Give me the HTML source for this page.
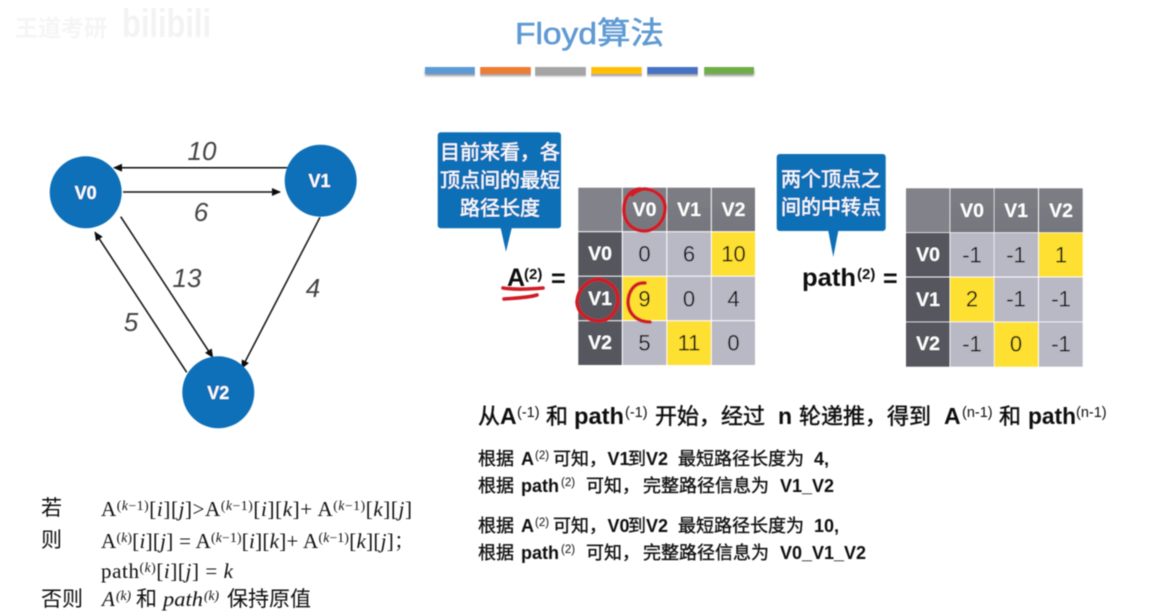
<!DOCTYPE html>
<html lang="zh">
<head>
<meta charset="utf-8">
<title>Floyd算法</title>
<style>
html,body{margin:0;padding:0;background:#fff;}
body{width:1154px;height:613px;overflow:hidden;}
svg{display:block;}
text{font-family:"Liberation Sans","Noto Sans CJK SC",sans-serif;}
.serif{font-family:"Liberation Serif","Noto Serif CJK SC",serif;}
.h{fill:#fff;font-weight:700;font-size:19.5px;text-anchor:middle;dominant-baseline:central;}
.n{fill:#111;font-size:22px;text-anchor:middle;dominant-baseline:central;}
.c{fill:#fff;font-size:20px;text-anchor:middle;dominant-baseline:central;stroke:#fff;stroke-width:.2;}
.w{fill:#444;font-size:26px;font-style:italic;text-anchor:middle;dominant-baseline:central;}
.m{font-size:22px;fill:#111;stroke:#111;stroke-width:.45;}
.ml{font-size:23px;font-weight:700;fill:#111;}
.ms{font-size:14.5px;fill:#111;}
.s{font-size:18px;fill:#111;stroke:#111;stroke-width:.35;}
.sl{font-size:18px;font-weight:700;fill:#111;}
.ss{font-size:11.5px;fill:#111;}
.f{font-size:21px;fill:#111;}
.fl{font-size:21px;fill:#111;}
.fs{font-size:13.5px;}
.red{fill:none;stroke:#cf1f28;stroke-width:3.6;stroke-linecap:round;}
</style>
</head>
<body>
<svg width="1154" height="613" viewBox="0 0 1154 613" xmlns="http://www.w3.org/2000/svg">
<defs>
<marker id="ah" markerWidth="10" markerHeight="10" refX="8" refY="4" orient="auto" markerUnits="userSpaceOnUse"><path d="M0 0L9 4L0 8z" fill="#111"/></marker>
<linearGradient id="hg" x1="0" y1="0" x2="0" y2="1"><stop offset="0" stop-color="#7d7e85"/><stop offset="1" stop-color="#76777e"/></linearGradient>
<filter id="soft" x="-5%" y="-5%" width="110%" height="110%"><feGaussianBlur stdDeviation="0.45"/></filter>
<filter id="sh" x="-10%" y="-50%" width="120%" height="220%"><feGaussianBlur stdDeviation="1"/></filter>
</defs>
<g filter="url(#soft)">
<!-- watermark -->
<text x="15" y="36" font-size="23" fill="#f5f5f5" font-weight="700">王道考研</text>
<text x="122" y="37" font-size="40" fill="#f3f3f3" font-weight="700" textLength="89" lengthAdjust="spacingAndGlyphs">bilibili</text>

<!-- title -->
<text x="515" y="44" font-size="31" fill="#5f9ad3" stroke="#5f9ad3" stroke-width=".6" textLength="149" lengthAdjust="spacingAndGlyphs">Floyd算法</text>
<g>
<rect x="425" y="70" width="329" height="6" fill="#999" filter="url(#sh)"/>
<rect x="425" y="67" width="50" height="7" fill="#5b9bd5"/>
<rect x="480" y="67" width="51" height="7" fill="#ed7d31"/>
<rect x="535" y="67" width="51" height="7" fill="#a5a5a5"/>
<rect x="591" y="67" width="51" height="7" fill="#ffc000"/>
<rect x="647" y="67" width="51" height="7" fill="#4472c4"/>
<rect x="704" y="67" width="50" height="7" fill="#70ad47"/>
<rect x="475" y="66" width="5" height="12" fill="#fff"/><rect x="531" y="66" width="4" height="12" fill="#fff"/><rect x="586" y="66" width="5" height="12" fill="#fff"/><rect x="642" y="66" width="5" height="12" fill="#fff"/><rect x="698" y="66" width="6" height="12" fill="#fff"/>
</g>

<!-- graph -->
<g stroke="#111" stroke-width="1.5" fill="none">
<line x1="290" y1="167.7" x2="114" y2="167.7" marker-end="url(#ah)"/>
<line x1="123" y1="192" x2="280" y2="192" marker-end="url(#ah)"/>
<line x1="120.7" y1="216.7" x2="212.7" y2="357.3" marker-end="url(#ah)"/>
<line x1="186.7" y1="372.3" x2="95" y2="232.3" marker-end="url(#ah)"/>
<line x1="320" y1="217.3" x2="241.7" y2="368.3" marker-end="url(#ah)"/>
</g>
<circle cx="85.7" cy="192.3" r="36" fill="#0b6fb8"/>
<circle cx="320.7" cy="180.7" r="36" fill="#0b6fb8"/>
<circle cx="218.3" cy="392.3" r="36" fill="#0b6fb8"/>
<text x="85.7" y="193" class="h" style="font-size:18px">V0</text>
<text x="319.5" y="181" class="h" style="font-size:18px">V1</text>
<text x="218.3" y="393" class="h" style="font-size:18px">V2</text>
<text x="202" y="151" class="w">10</text>
<text x="201" y="212" class="w">6</text>
<text x="187" y="278" class="w">13</text>
<text x="313" y="288" class="w">4</text>
<text x="131" y="322" class="w">5</text>

<!-- callout 1 -->
<path d="M440.7 132.3H558a3 3 0 0 1 3 3V225.3a3 3 0 0 1-3 3H511.7L506 251.7L500.7 228.3H440.7a3 3 0 0 1-3-3V135.3a3 3 0 0 1 3-3z" fill="#0f70b7"/>
<text x="500" y="153" class="c">目前来看，各</text>
<text x="500" y="181" class="c">顶点间的最短</text>
<text x="500" y="209" class="c">路径长度</text>

<!-- callout 2 -->
<path d="M779.7 154H882.7a3 3 0 0 1 3 3V228a3 3 0 0 1-3 3H838.3L833.3 257L828.3 231H779.7a3 3 0 0 1-3-3V157a3 3 0 0 1 3-3z" fill="#0f70b7"/>
<text x="831" y="180" class="c">两个顶点之</text>
<text x="831" y="208" class="c">间的中转点</text>

<!-- table A -->
<g>
<rect x="578.3" y="187.7" width="43.5" height="43.5" fill="#82838a"/>
<rect x="622.8" y="187.7" width="43.5" height="43.5" fill="url(#hg)"/>
<rect x="667.3" y="187.7" width="43.5" height="43.5" fill="url(#hg)"/>
<rect x="711.8" y="187.7" width="43.2" height="43.5" fill="url(#hg)"/>
<rect x="578.3" y="232.2" width="43.5" height="43.5" fill="#56565e"/>
<rect x="578.3" y="276.7" width="43.5" height="43.5" fill="#56565e"/>
<rect x="578.3" y="321.2" width="43.5" height="43.8" fill="#56565e"/>
<rect x="622.8" y="232.2" width="43.5" height="43.5" fill="#b9b8c5"/>
<rect x="667.3" y="232.2" width="43.5" height="43.5" fill="#b9b8c5"/>
<rect x="711.8" y="232.2" width="43.2" height="43.5" fill="#fee033"/>
<rect x="622.8" y="276.7" width="43.5" height="43.5" fill="#fee033"/>
<rect x="667.3" y="276.7" width="43.5" height="43.5" fill="#b9b8c5"/>
<rect x="711.8" y="276.7" width="43.2" height="43.5" fill="#b9b8c5"/>
<rect x="622.8" y="321.2" width="43.5" height="43.8" fill="#b9b8c5"/>
<rect x="667.3" y="321.2" width="43.5" height="43.8" fill="#fee033"/>
<rect x="711.8" y="321.2" width="43.2" height="43.8" fill="#b9b8c5"/>
<text x="644.5" y="210" class="h">V0</text><text x="689" y="210" class="h">V1</text><text x="733.5" y="210" class="h">V2</text>
<text x="600" y="254" class="h">V0</text><text x="600" y="299" class="h">V1</text><text x="600" y="343" class="h">V2</text>
<text x="644.5" y="254" class="n">0</text><text x="689" y="254" class="n">6</text><text x="733.5" y="254" class="n">10</text>
<text x="644.5" y="299" class="n">9</text><text x="689" y="299" class="n">0</text><text x="733.5" y="299" class="n">4</text>
<text x="644.5" y="343" class="n">5</text><text x="689" y="343" class="n">11</text><text x="733.5" y="343" class="n">0</text>
</g>

<!-- A(2) = -->
<text x="507" y="286" font-size="25" font-weight="700" fill="#111">A</text>
<text x="524" y="279" font-size="15" font-weight="700" fill="#111">(2)</text>
<text x="551" y="287" font-size="25" font-weight="700" fill="#111">=</text>

<!-- table path -->
<g>
<rect x="906" y="188.3" width="43.5" height="44" fill="#82838a"/>
<rect x="950.3" y="188.3" width="43.5" height="44" fill="url(#hg)"/>
<rect x="994.5" y="188.3" width="43.5" height="44" fill="url(#hg)"/>
<rect x="1039" y="188.3" width="43.7" height="44" fill="url(#hg)"/>
<rect x="906" y="233" width="43.5" height="43.5" fill="#56565e"/>
<rect x="906" y="277.5" width="43.5" height="44" fill="#56565e"/>
<rect x="906" y="322.3" width="43.5" height="44.4" fill="#56565e"/>
<rect x="950.3" y="233" width="43.5" height="43.5" fill="#b9b8c5"/>
<rect x="994.5" y="233" width="43.5" height="43.5" fill="#b9b8c5"/>
<rect x="1039" y="233" width="43.7" height="43.5" fill="#fee033"/>
<rect x="950.3" y="277.5" width="43.5" height="44" fill="#fee033"/>
<rect x="994.5" y="277.5" width="43.5" height="44" fill="#b9b8c5"/>
<rect x="1039" y="277.5" width="43.7" height="44" fill="#b9b8c5"/>
<rect x="950.3" y="322.3" width="43.5" height="44.4" fill="#b9b8c5"/>
<rect x="994.5" y="322.3" width="43.5" height="44.4" fill="#fee033"/>
<rect x="1039" y="322.3" width="43.7" height="44.4" fill="#b9b8c5"/>
<text x="972" y="211" class="h">V0</text><text x="1016" y="211" class="h">V1</text><text x="1061" y="211" class="h">V2</text>
<text x="928" y="255" class="h">V0</text><text x="928" y="300" class="h">V1</text><text x="928" y="344" class="h">V2</text>
<text x="972" y="255" class="n">-1</text><text x="1016" y="255" class="n">-1</text><text x="1061" y="255" class="n">1</text>
<text x="972" y="299" class="n">2</text><text x="1016" y="299" class="n">-1</text><text x="1061" y="299" class="n">-1</text>
<text x="972" y="344" class="n">-1</text><text x="1016" y="344" class="n">0</text><text x="1061" y="344" class="n">-1</text>
</g>

<!-- path(2) = -->
<text x="802" y="286" font-size="25" font-weight="700" fill="#111" textLength="54" lengthAdjust="spacingAndGlyphs">path</text>
<text x="857" y="279" font-size="15" font-weight="700" fill="#111">(2)</text>
<text x="883" y="287" font-size="25" font-weight="700" fill="#111">=</text>

<!-- red annotations -->
<path class="red" d="M640 189C628 190 624 200 624 210C624 224 634 231 645 231C657 230 665 220 665 208C665 197 656 190 645 189C642 189 636 191 632 195"/>
<path class="red" d="M600 279C586 280 578 290 577 302C578 314 588 321 600 321C612 320 618 309 618 298C617 288 610 280 596 279"/>
<path class="red" d="M645 283C634 282 628 292 628 303C629 315 638 322 650 322"/>
<path class="red" d="M503 288C516 290 530 289 543 288"/>
<path class="red" d="M504 299C515 298 527 298 537 295"/>

<!-- main line -->
<g>
<text x="478" y="424" class="m">从</text><text x="500" y="424" class="ml">A</text>
<text x="517" y="417" class="ms">(-1)</text>
<text x="546" y="424" class="m">和</text>
<text x="574" y="424" class="ml" textLength="50" lengthAdjust="spacingAndGlyphs">path</text>
<text x="625" y="417" class="ms">(-1)</text>
<text x="655" y="424" class="m">开始，经过</text>
<text x="778" y="424" class="ml">n</text>
<text x="799" y="424" class="m">轮递推，得到</text>
<text x="944" y="424" class="ml">A</text>
<text x="962" y="417" class="ms">(n-1)</text>
<text x="999" y="424" class="m">和</text>
<text x="1028" y="424" class="ml" textLength="48" lengthAdjust="spacingAndGlyphs">path</text>
<text x="1076" y="417" class="ms">(n-1)</text>
</g>

<!-- detail lines -->
<g>
<text x="478" y="465" class="s">根据</text><text x="521" y="465" class="sl">A</text><text x="535" y="459" class="ss">(2)</text><text x="553" y="465" class="s">可知，</text><text x="607.5" y="465" class="sl">V1</text><text x="628" y="465" class="s">到</text><text x="646" y="465" class="sl">V2</text><text x="678" y="465" class="s">最短路径长度为</text><text x="814" y="465" class="sl">4,</text>
<text x="478" y="492" class="s">根据</text><text x="521" y="492" class="sl">path</text><text x="561" y="486" class="ss">(2)</text><text x="586" y="492" class="s">可知，</text><text x="643" y="492" class="s">完整路径信息为</text><text x="780" y="492" class="sl">V1_V2</text>
<text x="478" y="532" class="s">根据</text><text x="521" y="532" class="sl">A</text><text x="535" y="526" class="ss">(2)</text><text x="553" y="532" class="s">可知，</text><text x="607.5" y="532" class="sl">V0</text><text x="628" y="532" class="s">到</text><text x="646" y="532" class="sl">V2</text><text x="678" y="532" class="s">最短路径长度为</text><text x="814" y="532" class="sl">10,</text>
<text x="478" y="559" class="s">根据</text><text x="521" y="559" class="sl">path</text><text x="561" y="553" class="ss">(2)</text><text x="586" y="559" class="s">可知，</text><text x="643" y="559" class="s">完整路径信息为</text><text x="780" y="559" class="sl">V0_V1_V2</text>
</g>

<!-- formula -->
<g class="serif">
<text x="41" y="515" class="f" font-size="21">若</text>
<text x="41" y="547" class="f">则</text>
<text x="41" y="606" class="f">否则</text>
<text x="101" y="516" class="fl serif" textLength="311">A<tspan class="fs" dy="-6">(<tspan font-style="italic">k</tspan>−1)</tspan><tspan dy="6">[<tspan font-style="italic">i</tspan>][<tspan font-style="italic">j</tspan>]&gt;A</tspan><tspan class="fs" dy="-6">(<tspan font-style="italic">k</tspan>−1)</tspan><tspan dy="6">[<tspan font-style="italic">i</tspan>][<tspan font-style="italic">k</tspan>]+ A</tspan><tspan class="fs" dy="-6">(<tspan font-style="italic">k</tspan>−1)</tspan><tspan dy="6">[<tspan font-style="italic">k</tspan>][<tspan font-style="italic">j</tspan>]</tspan></text>
<text x="101" y="548" class="fl serif" textLength="314">A<tspan class="fs" dy="-6">(<tspan font-style="italic">k</tspan>)</tspan><tspan dy="6">[<tspan font-style="italic">i</tspan>][<tspan font-style="italic">j</tspan>] = A</tspan><tspan class="fs" dy="-6">(<tspan font-style="italic">k</tspan>−1)</tspan><tspan dy="6">[<tspan font-style="italic">i</tspan>][<tspan font-style="italic">k</tspan>]+ A</tspan><tspan class="fs" dy="-6">(<tspan font-style="italic">k</tspan>−1)</tspan><tspan dy="6">[<tspan font-style="italic">k</tspan>][<tspan font-style="italic">j</tspan>]；</tspan></text>
<text x="101" y="578" class="fl serif" textLength="132">path<tspan class="fs" dy="-6">(<tspan font-style="italic">k</tspan>)</tspan><tspan dy="6">[<tspan font-style="italic">i</tspan>][<tspan font-style="italic">j</tspan>] = <tspan font-style="italic">k</tspan></tspan></text>
<text x="102" y="606" class="f serif" font-style="italic">A</text>
<text x="116" y="600" class="f fs serif" font-style="italic" style="font-size:13.5px">(k)</text>
<text x="136" y="606" class="f">和</text>
<text x="163" y="606" class="f serif" font-style="italic" textLength="40" lengthAdjust="spacingAndGlyphs">path</text>
<text x="204" y="600" class="f fs serif" font-style="italic" style="font-size:13.5px">(k)</text>
<text x="227" y="606" class="f">保持原值</text>
</g>
</g>
</svg>
</body>
</html>
